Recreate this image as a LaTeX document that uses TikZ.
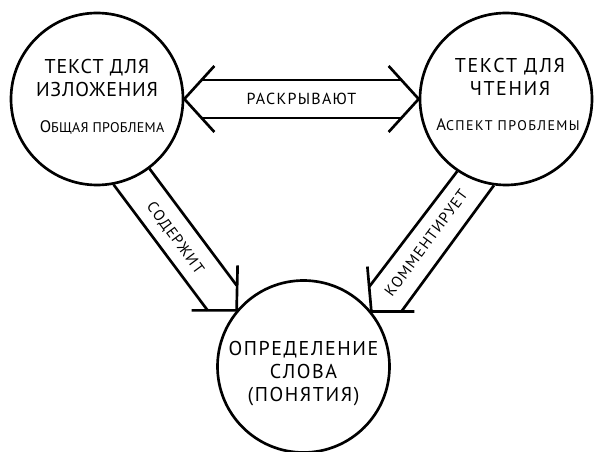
\documentclass[tikz,border=0pt]{standalone}
\usepackage{fontspec}
\setmainfont{PT Sans}
\usetikzlibrary{calc}
\begin{document}
\begin{tikzpicture}[x=0.75pt,y=-0.75pt,
  circ/.style={draw,circle,line width=2pt,minimum size=129pt,inner sep=0pt},
  fat/.style={line width=2pt},
  title/.style={align=center,font=\fontsize{15}{17}\selectfont\addfontfeatures{LetterSpace=8},inner sep=0pt},
  sub/.style={font=\fontsize{12.5}{14}\selectfont,inner sep=0pt},
  lab/.style={font=\fontsize{11.5}{12}\selectfont\addfontfeatures{LetterSpace=8},inner sep=0pt}]
\useasboundingbox (0,0) rectangle (596,452);
\node[circ] (L) at (97,99) {};
\node[circ] (R) at (506,99) {};
\node[circ] (B) at (303.5,366.5) {};
% circle texts
\node[title] (Lt) at ($(L)+(0,-21)$) {\addfontfeatures{LetterSpace=4}ТЕКСТ ДЛЯ\\\addfontfeatures{LetterSpace=4}ИЗЛОЖЕНИЯ};
\node[sub] (Ls) at ($(L)+(5,28)$) {\addfontfeatures{LetterSpace=2}О{\fontsize{10.5}{12}\selectfont БЩАЯ ПРОБЛЕМА}};
\node[title] (Rt) at ($(R)+(4,-22)$) {ТЕКСТ ДЛЯ\\ЧТЕНИЯ};
\node[sub] (Rs) at ($(R)+(2,26)$) {\addfontfeatures{LetterSpace=10}А{\fontsize{10.5}{12}\selectfont СПЕКТ ПРОБЛЕМЫ}};
\node[title] (Bt) at ($(B)+(0,7)$) {ОПРЕДЕЛЕНИЕ\\СЛОВА\\(ПОНЯТИЯ)};
% tips
\coordinate (TL) at (L.east);
\coordinate (TR) at (R.west);
\coordinate (T1) at (B.140.7);
\coordinate (T2) at (B.39.3);
% double arrow
\draw[fat] ($(TL)+(30,-33)$) -- (TL) -- ($(TL)+(30,33)$);
\draw[fat] ($(TR)+(-30,-33)$) -- (TR) -- ($(TR)+(-30,33)$);
\draw[fat] ($(TL)+(18,-19)$) -- ($(TR)+(-18,-19)$);
\draw[fat] ($(TL)+(18,19)$) -- ($(TR)+(-18,19)$);
\node[lab,font=\fontsize{12}{12}\selectfont\addfontfeatures{LetterSpace=8}] (raskr) at ($(TL)!0.5!(TR)$) {РАСКРЫВАЮТ};
% left diagonal arrow
\draw[fat] ($(T1)+(1,-45)$) -- (T1) -- ($(T1)+(-45,0)$);
\draw[fat] (L.-79.2) -- ($(T1)+(-29,0)$);
\draw[fat] (L.-53.3) -- ($(T1)+(0,-25)$);
\node[lab,rotate=-53.5] (sod) at (175,238) {СОДЕРЖИТ};
% right diagonal arrow
\draw[fat] ($(T2)+(-4,-45)$) -- (T2) -- ($(T2)+(43,0)$);
\draw[fat] (R.-124.6) -- ($(T2)+(-2,-25)$);
\draw[fat] (R.-98.6) -- ($(T2)+(30,0)$);
\node[lab,rotate=53.5] (komm) at (426,243) {КОММЕНТИРУЕТ};
\end{tikzpicture}
\end{document}
